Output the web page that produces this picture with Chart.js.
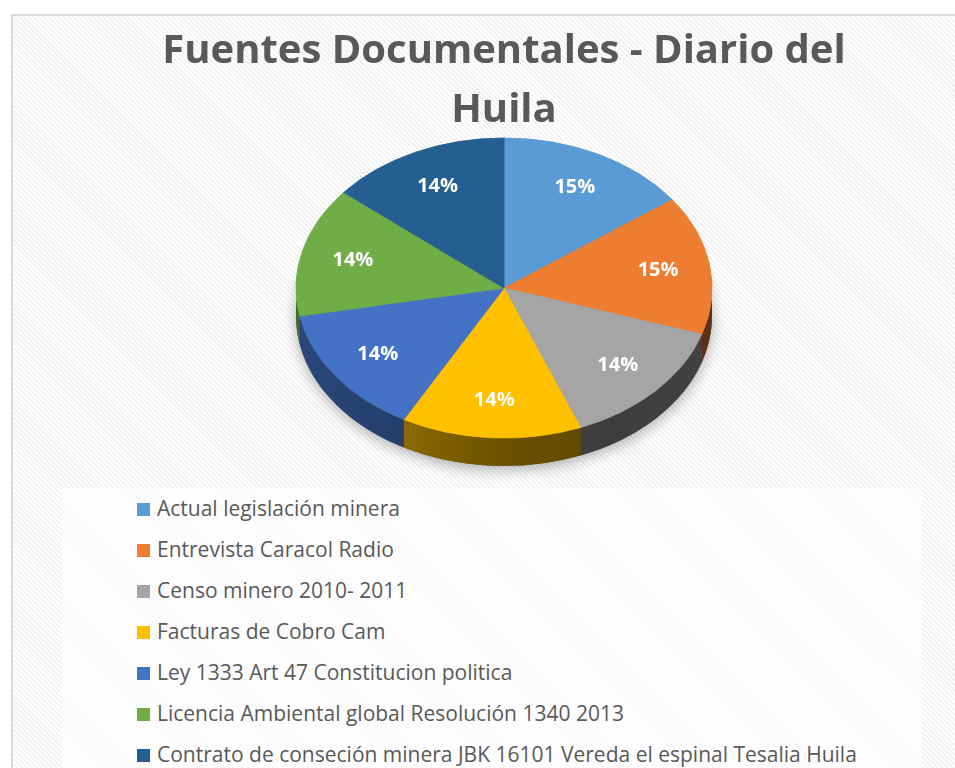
<!DOCTYPE html>
<html>
<head>
<meta charset="utf-8">
<script src="https://cdn.jsdelivr.net/npm/chart.js@4.4.1/dist/chart.umd.min.js"></script>
<style>
    html, body {
        margin: 0;
        padding: 0;
        width: 955px;
        height: 768px;
        overflow: hidden;
        background: #ffffff;
        font-family: "Open Sans", sans-serif;
    }
    #frame {
        position: absolute;
        left: 11px;
        top: 14px;
        width: 960px;
        height: 780px;
        box-sizing: border-box;
        border: 2px solid #d9d9d9;
        background: repeating-linear-gradient(45deg, #ffffff 0 1.8px, #f1f1f1 1.8px 3.5px);
    }
    #chart-box {
        position: absolute;
        left: 62px;
        top: 0;
        width: 884px;
        height: 490px;
    }
    #legend {
        position: absolute;
        left: 62px;
        top: 488px;
        width: 860px;
        height: 300px;
        margin: 0;
        padding: 0 0 0 75px;
        box-sizing: border-box;
        list-style: none;
        background: repeating-linear-gradient(45deg, #ffffff 0 1.8px, #fafafa 1.8px 3.5px);
    }
    #legend li {
        height: 41px;
        line-height: 41px;
        font-size: 21px;
        color: #595959;
        white-space: nowrap;
    }
    #legend .box {
        display: inline-block;
        width: 13px;
        height: 13px;
        margin-right: 7px;
        vertical-align: 0px;
    }
</style>
</head>
<body>
<div id="frame"></div>
<div id="chart-box"><canvas id="chart"></canvas></div>
<ul id="legend"></ul>

<script>
const categories = [
    "Actual legislación minera",
    "Entrevista Caracol Radio",
    "Censo minero 2010- 2011",
    "Facturas de Cobro Cam",
    "Ley 1333 Art 47 Constitucion politica",
    "Licencia Ambiental global Resolución 1340 2013",
    "Contrato de conseción minera JBK 16101 Vereda el espinal Tesalia Huila",
];
const values = [15, 15, 14, 14, 14, 14, 14];
const colors = ["#5b9bd5", "#ed7d31", "#a5a5a5", "#ffc000", "#4472c4", "#70ad47", "#255e91"];
const titleLines = ["Fuentes Documentales - Diario del", "Huila"];

// 3D look: squash factor, face centre (canvas y) and wall depth
const TILT = 150 / 208;
const FACE_Y = 288;
const DEPTH = 28;

function shade(hex, f) {
    const r = Math.round(parseInt(hex.slice(1, 3), 16) * f);
    const g = Math.round(parseInt(hex.slice(3, 5), 16) * f);
    const b = Math.round(parseInt(hex.slice(5, 7), 16) * f);
    return `rgb(${r}, ${g}, ${b})`;
}

const pie3d = {
    id: "pie3d",
    beforeDatasetsDraw(chart) {
        const ctx = chart.ctx;
        const arcs = chart.getDatasetMeta(0).data;
        const { x: cx, y: cy, outerRadius: r } = arcs[0];
        const ry = r * TILT;

        // soft shadow under the pie
        ctx.save();
        ctx.shadowColor = "rgba(0, 0, 0, 0.3)";
        ctx.shadowBlur = 14;
        ctx.shadowOffsetY = 4;
        ctx.fillStyle = "#555555";
        ctx.beginPath();
        ctx.ellipse(cx, FACE_Y + DEPTH, r, ry, 0, 0, Math.PI * 2);
        ctx.fill();
        ctx.restore();

        // side walls of the front half
        arcs.forEach((arc, i) => {
            const a1 = Math.max(arc.startAngle, 0);
            const a2 = Math.min(arc.endAngle, Math.PI);
            if (a2 <= a1) return;
            const grad = ctx.createLinearGradient(cx - r, 0, cx + r, 0);
            grad.addColorStop(0, shade(colors[i], 0.62));
            grad.addColorStop(0.25, shade(colors[i], 0.55));
            grad.addColorStop(0.5, shade(colors[i], 0.42));
            grad.addColorStop(0.75, shade(colors[i], 0.37));
            grad.addColorStop(1, shade(colors[i], 0.4));
            ctx.beginPath();
            ctx.ellipse(cx, FACE_Y, r, ry, 0, a1, a2);
            ctx.lineTo(cx + r * Math.cos(a2), FACE_Y + ry * Math.sin(a2) + DEPTH);
            ctx.ellipse(cx, FACE_Y + DEPTH, r, ry, 0, a2, a1, true);
            ctx.closePath();
            ctx.fillStyle = grad;
            ctx.fill();
        });

        // squash the top face
        ctx.save();
        ctx.translate(cx, FACE_Y);
        ctx.scale(1, TILT);
        ctx.translate(-cx, -cy);
    },
    afterDatasetsDraw(chart) {
        const ctx = chart.ctx;
        ctx.restore();

        const arcs = chart.getDatasetMeta(0).data;
        const total = values.reduce((a, b) => a + b, 0);
        ctx.save();
        ctx.font = 'bold 20px "Open Sans"';
        ctx.fillStyle = "#ffffff";
        ctx.textAlign = "center";
        ctx.textBaseline = "middle";
        arcs.forEach((arc, i) => {
            const mid = (arc.startAngle + arc.endAngle) / 2;
            const lr = arc.outerRadius * 0.75;
            const x = arc.x + lr * Math.cos(mid);
            const y = FACE_Y + lr * TILT * Math.sin(mid);
            ctx.fillText(Math.round((values[i] / total) * 100) + "%", x, y);
        });
        ctx.restore();
    },
};

new Chart(document.getElementById("chart"), {
    type: "pie",
    data: {
        labels: categories,
        datasets: [{
            data: values,
            backgroundColor: colors,
            borderColor: colors,
            borderWidth: 1,
        }],
    },
    options: {
        responsive: true,
        maintainAspectRatio: false,
        animation: false,
        radius: 208,
        layout: { padding: 0 },
        plugins: {
            legend: { display: false },
            tooltip: { enabled: false },
            title: {
                display: true,
                text: titleLines,
                color: "#595959",
                font: { family: "Open Sans", size: 40, weight: "bold", lineHeight: 1.48 },
                padding: { top: 22, bottom: 10 },
            },
        },
    },
    plugins: [pie3d],
});

// legend built from the same arrays
const legend = document.getElementById("legend");
categories.forEach((name, i) => {
    const li = document.createElement("li");
    const box = document.createElement("span");
    box.className = "box";
    box.style.background = colors[i];
    li.appendChild(box);
    li.appendChild(document.createTextNode(name));
    legend.appendChild(li);
});
</script>
</body>
</html>
